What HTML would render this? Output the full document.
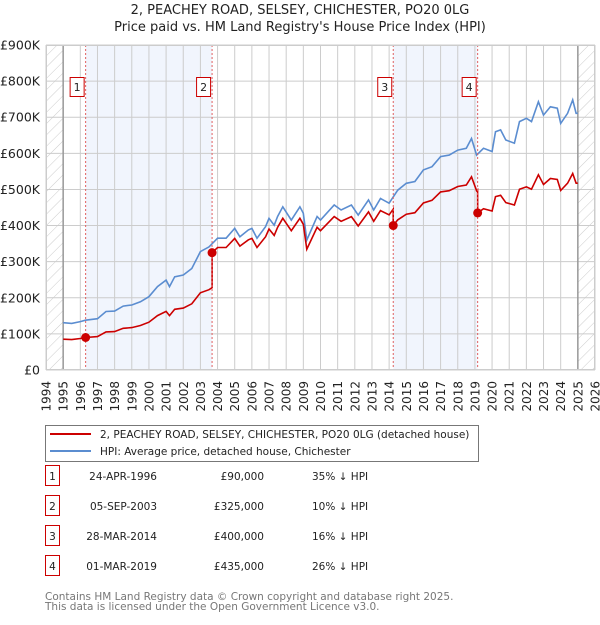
<!DOCTYPE html>
<html><head><meta charset="utf-8"><style>
body{margin:0;background:#fff;width:600px;height:620px;overflow:hidden;font-family:"Liberation Sans","DejaVu Sans",sans-serif;}
svg text{font-family:"DejaVu Sans","Liberation Sans",sans-serif;}
</style></head><body>
<svg id="chart" width="600" height="620" xmlns="http://www.w3.org/2000/svg">
<defs>
<pattern id="hatch" patternUnits="userSpaceOnUse" width="8" height="8" patternTransform="rotate(45)">
<line x1="0" y1="0" x2="0" y2="8" stroke="#ccc" stroke-width="1"/></pattern>
</defs>
<text x="300" y="14" text-anchor="middle" font-size="13" fill="#222">2, PEACHEY ROAD, SELSEY, CHICHESTER, PO20 0LG</text>
<text x="300" y="31" text-anchor="middle" font-size="13" fill="#222">Price paid vs. HM Land Registry's House Price Index (HPI)</text>
<g id="plot"></g>
<g>
<rect x="45.5" y="425.5" width="433" height="36" fill="#fff" stroke="#777"/>
<line x1="50" y1="434" x2="91" y2="434" stroke="#cc0000" stroke-width="2"/>
<text x="100" y="438" font-size="10.5" fill="#222">2, PEACHEY ROAD, SELSEY, CHICHESTER, PO20 0LG (detached house)</text>
<line x1="50" y1="451" x2="91" y2="451" stroke="#5b8dd0" stroke-width="2"/>
<text x="100" y="455" font-size="10.5" fill="#222">HPI: Average price, detached house, Chichester</text>
</g>
<g id="table"></g>
<text font-size="10.5" fill="#777"><tspan x="45" y="600">Contains HM Land Registry data © Crown copyright and database right 2025.</tspan><tspan x="45" y="610">This data is licensed under the Open Government Licence v3.0.</tspan></text>
</svg>
<script>
const hpiYears=[1995,1995.5,1996,1996.3,1997,1997.5,1998,1998.5,1999,1999.5,2000,2000.5,2001,2001.2,2001.5,2002,2002.5,2003,2003.5,2004,2004.5,2005,2005.3,2005.8,2006,2006.3,2006.8,2007,2007.3,2007.5,2007.8,2008.3,2008.8,2009,2009.2,2009.8,2010,2010.8,2011.2,2011.8,2012.2,2012.8,2013.1,2013.5,2014,2014.5,2015,2015.5,2016,2016.5,2017,2017.5,2018,2018.5,2018.8,2019.1,2019.5,2020,2020.2,2020.5,2020.8,2021.3,2021.6,2022,2022.3,2022.7,2023,2023.4,2023.8,2024,2024.4,2024.7,2024.9,2025];
const hpiValues=[131,129,134,138,142,162,163,177,180,189,203,231,249,231,258,263,281,328,341,365,365,392,369,388,392,365,397,420,401,425,452,415,452,434,360,425,415,457,443,457,429,471,443,475,462,498,517,522,554,563,591,595,609,614,641,595,614,605,660,665,637,628,688,697,688,743,706,729,725,683,711,748,711,711];
const saleDates=[1996.31,2003.68,2014.24,2019.16];
const salePrices=[90,325,400,435];
const saleLabels=["24-APR-1996","05-SEP-2003","28-MAR-2014","01-MAR-2019"];
const salePriceText=["£90,000","£325,000","£400,000","£435,000"];
const saleDiff=["35% ↓ HPI","10% ↓ HPI","16% ↓ HPI","26% ↓ HPI"];
const yTicks=[0,100,200,300,400,500,600,700,800,900];
const yTickLabels=["£0","£100K","£200K","£300K","£400K","£500K","£600K","£700K","£800K","£900K"];

const X0=46,X1=595,Y0=370,Y1=45,T0=1994,T1=2026,VMAX=900;
const xs=t=>X0+(t-T0)*(X1-X0)/(T1-T0);
const ys=v=>Y0-v*(Y0-Y1)/VMAX;
const NS="http://www.w3.org/2000/svg";
const plot=document.getElementById('plot');
function mk(tag,attrs,parent){const e=document.createElementNS(NS,tag);for(const k in attrs)e.setAttribute(k,attrs[k]);(parent||plot).appendChild(e);return e;}
function hpiAt(t){for(let i=0;i<hpiYears.length-1;i++){if(t<=hpiYears[i+1]){const f=(t-hpiYears[i])/(hpiYears[i+1]-hpiYears[i]);return hpiValues[i]+f*(hpiValues[i+1]-hpiValues[i]);}}return hpiValues[hpiValues.length-1];}

let r=mk('rect',{x:X0,y:Y1,width:X1-X0,height:Y0-Y1,fill:'#fff'});

[[0,1],[2,3]].forEach(p=>{const s=mk('rect',{x:xs(saleDates[p[0]]),y:Y1,width:xs(saleDates[p[1]])-xs(saleDates[p[0]]),height:Y0-Y1,fill:'#eef3fc',opacity:0.8});

});
let h1=mk('rect',{x:X0,y:Y1,width:xs(1995)-X0,height:Y0-Y1,fill:'url(#hatch)'});

let h2=mk('rect',{x:xs(2025),y:Y1,width:X1-xs(2025),height:Y0-Y1,fill:'url(#hatch)'});

for(let t=T0;t<=T1;t++){const l=mk('line',{x1:xs(t),x2:xs(t),y1:Y1,y2:Y0,stroke:'#ccc','stroke-width':1});


const tx=mk('text',{x:0,y:0,transform:`translate(${xs(t)+4.5},381) rotate(-90)`,'text-anchor':'end','font-size':12,fill:'#222'});
tx.textContent=t;

}
yTicks.forEach((v,i)=>{const l=mk('line',{x1:X0,x2:X1,y1:ys(v),y2:ys(v),stroke:'#ccc','stroke-width':1});


const tx=mk('text',{x:40,y:ys(v)+4.5,'text-anchor':'end','font-size':12.5,fill:'#222'});
tx.textContent=yTickLabels[i];

});
[1995,2025].forEach(t=>{const l=mk('line',{x1:xs(t),x2:xs(t),y1:Y1,y2:Y0,stroke:'#999','stroke-width':1.5});

});
let d='';hpiYears.forEach((t,i)=>{d+=(i?'L':'M')+xs(t).toFixed(1)+','+ys(hpiValues[i]).toFixed(1);});
const hl=mk('path',{d:d,fill:'none',stroke:'#5b8dd0','stroke-width':1.6});

const factors=saleDates.map((t,i)=>salePrices[i]/hpiAt(t));
function fac(t){let f=factors[0];saleDates.forEach((s,i)=>{if(t>=s)f=factors[i];});return f;}
let pts=[];hpiYears.forEach((t,i)=>pts.push([t,hpiValues[i]*fac(t)]));
saleDates.forEach((s,i)=>{pts.push([s-0.001,hpiAt(s)*(i?factors[i-1]:factors[0])]);pts.push([s,salePrices[i]]);});
pts.sort((a,b)=>a[0]-b[0]);
let d2='';pts.forEach((p,i)=>{d2+=(i?'L':'M')+xs(p[0]).toFixed(1)+','+ys(p[1]).toFixed(1);});
const pl=mk('path',{d:d2,fill:'none',stroke:'#cc0000','stroke-width':1.6});

saleDates.forEach((s,i)=>{
const vl=mk('line',{x1:xs(s),x2:xs(s),y1:Y1,y2:Y0,stroke:'#e06060','stroke-width':1,'stroke-dasharray':'2,2'});


const c=mk('circle',{cx:xs(s),cy:ys(salePrices[i]),r:4.5,fill:'#cc0000'});


const b=mk('rect',{x:xs(s)-15.5,y:77.5,width:14,height:19,fill:'#fff',stroke:'#cc0000'});


const bt=mk('text',{x:xs(s)-8.5,y:91,'text-anchor':'middle','font-size':11,fill:'#222'});
bt.textContent=i+1;

});
mk('rect',{x:X0+0.5,y:Y1+0.5,width:X1-X0-1,height:Y0-Y1-1,fill:'none',stroke:'#ccc'});
const tb=document.getElementById('table');
saleDates.forEach((s,i)=>{const cy=483+30*i;
const b=mk('rect',{x:45.5,y:cy-17.5,width:14,height:20,fill:'#fff',stroke:'#cc0000'},tb);


const n=mk('text',{x:52.5,y:cy-3,'text-anchor':'middle','font-size':10.5,fill:'#222'},tb);n.textContent=i+1;


const a=mk('text',{x:157,y:cy-3,'text-anchor':'end','font-size':10.5,fill:'#222'},tb);a.textContent=saleLabels[i];


const p=mk('text',{x:264,y:cy-3,'text-anchor':'end','font-size':10.5,fill:'#222'},tb);p.textContent=salePriceText[i];


const q=mk('text',{x:312,y:cy-3,'font-size':10.5,fill:'#222'},tb);q.textContent=saleDiff[i];

});
</script>
</body></html>
